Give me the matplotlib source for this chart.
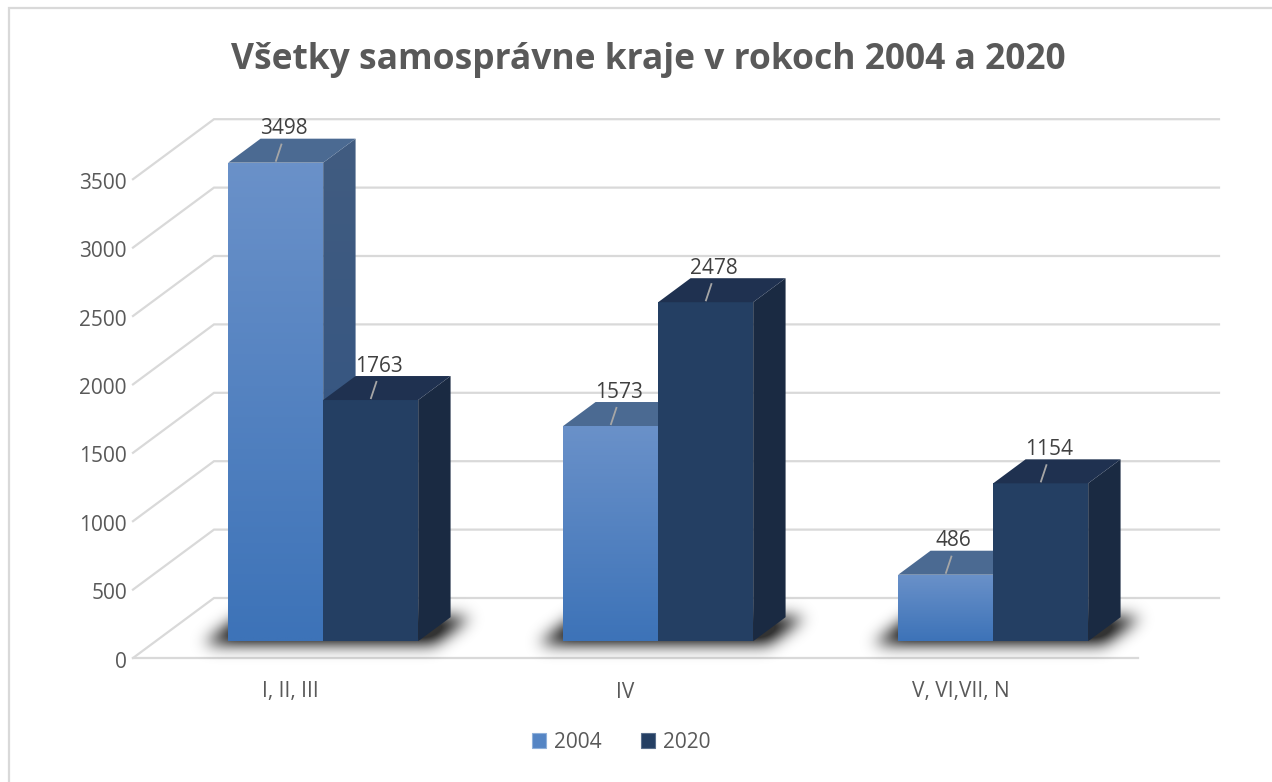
import numpy as np
import matplotlib
matplotlib.use('Agg')
import matplotlib.pyplot as plt
from matplotlib.patches import Polygon, Patch, Rectangle
from matplotlib.path import Path

plt.rcParams['font.family'] = ['Open Sans', 'DejaVu Sans']

# Data
categories = ['I, II, III', 'IV', 'V, VI,VII, N']
series = ['2004', '2020']
values_2004 = [3498, 1573, 486]
values_2020 = [1763, 2478, 1154]
y_ticks = [0, 500, 1000, 1500, 2000, 2500, 3000, 3500]
title = 'Všetky samosprávne kraje v rokoch 2004 a 2020'

# Colours: front, top, side (front/side of 2004 get a gradient)
c04_front_top, c04_front_bot = '#6A91C9', '#3D73B8'
c04_top = '#4B6A92'
c04_side_top, c04_side_bot = '#415C80', '#2F5283'
c20_front, c20_top, c20_side = '#243F63', '#1F3150', '#1A2A42'
grid_col = '#D9D9D9'
text_col = '#595959'
label_col = '#404040'

W, H = 1272, 782
fig = plt.figure(figsize=(W / 100, H / 100), dpi=100)
ax = fig.add_axes([0, 0, 1, 1])
ax.axis('off')

# Pseudo-3D geometry in data units (x: category units, y: value units)
px_per_cat = 335.0
px_per_val = 68.4 / 500
x0_px, y0_px = 133, 658
ax.set_xlim(-x0_px / px_per_cat, (W - x0_px) / px_per_cat)
ax.set_ylim((y0_px - H) / px_per_val, y0_px / px_per_val)
DX = 81 / px_per_cat      # full floor depth, x shift
DY = 60 / px_per_val      # full floor depth, y shift
n_cat = len(categories)
bar_w = 95 / px_per_cat
z_front, z_back = 0.28, 0.68
fs = 15


def proj(x, y, z):
    return (x + z * DX, y + z * DY)


# chart border (only top and left visible)
fig.add_artist(Rectangle((9 / W, -0.1), 1.2, (H - 8) / H + 0.1, transform=fig.transFigure,
                         fill=False, edgecolor=grid_col, lw=1.6))

# gridlines: side wall diagonal + back wall
for v in y_ticks:
    a = proj(0, v, 0)
    b = proj(0, v, 1)
    c = proj(n_cat, v, 1)
    ax.plot([a[0], b[0], c[0]], [a[1], b[1], c[1]], color=grid_col, lw=1.6,
            solid_joinstyle='miter', zorder=1)
    ax.text(a[0] - 6 / px_per_cat, v - 4 / px_per_val, str(v), ha='right', va='center',
            fontsize=fs, color=text_col)
ax.plot([0, n_cat], [0, 0], color=grid_col, lw=1.6, zorder=1)

# category labels
for i, cat in enumerate(categories):
    ax.text(i + 0.5 - 10 / px_per_cat, -34 / px_per_val, cat, ha='center', va='center',
            fontsize=fs, color=text_col)


def grad_face(poly_pts, c_top, c_bot, zorder):
    poly = Polygon(poly_pts, closed=True, facecolor='none', edgecolor='none', zorder=zorder)
    ax.add_patch(poly)
    xs = [p[0] for p in poly_pts]
    ys = [p[1] for p in poly_pts]
    ct = np.array(matplotlib.colors.to_rgb(c_top))
    cb = np.array(matplotlib.colors.to_rgb(c_bot))
    t = np.linspace(0, 1, 64)[:, None]
    img = (ct * (1 - t) + cb * t)[:, None, :]
    im = ax.imshow(img, extent=[min(xs), max(xs), min(ys), max(ys)], origin='upper',
                   aspect='auto', zorder=zorder, interpolation='bilinear')
    im.set_clip_path(poly)


def draw_bar(xl, v, style, zo):
    xr = xl + bar_w
    f = [proj(xl, 0, z_front), proj(xr, 0, z_front), proj(xr, v, z_front), proj(xl, v, z_front)]
    top = [proj(xl, v, z_front), proj(xr, v, z_front), proj(xr, v, z_back), proj(xl, v, z_back)]
    side = [proj(xr, 0, z_front), proj(xr, 0, z_back), proj(xr, v, z_back), proj(xr, v, z_front)]
    if style == 0:
        grad_face(side, c04_side_top, c04_side_bot, zo)
        grad_face(f, c04_front_top, c04_front_bot, zo + 0.1)
        ax.add_patch(Polygon(top, closed=True, facecolor=c04_top, edgecolor='none', zorder=zo + 0.1))
    else:
        ax.add_patch(Polygon(side, closed=True, facecolor=c20_side, edgecolor='none', zorder=zo))
        ax.add_patch(Polygon(f, closed=True, facecolor=c20_front, edgecolor='none', zorder=zo + 0.1))
        ax.add_patch(Polygon(top, closed=True, facecolor=c20_top, edgecolor='none', zorder=zo + 0.1))
    # data label with leader line
    cx = xl + bar_w / 2
    tx, ty = proj(cx, v, z_front)
    ax.plot([tx, tx + 6 / px_per_cat], [ty + 1 / px_per_val, ty + 19 / px_per_val],
            color='#A6A6A6', lw=1.3, zorder=zo + 0.2, solid_capstyle='butt')
    ax.text(tx + 8 / px_per_cat, ty + 34 / px_per_val, str(v), ha='center', va='center',
            fontsize=fs, color=label_col, zorder=zo + 0.3)


def draw_shadow(xl, xr):
    # soft blurred shadow on the floor around the base of a bar group
    ex = 20 / px_per_cat
    pts = [proj(xl - ex, 0, z_front - 0.05), proj(xr + ex, 0, z_front - 0.05),
           proj(xr + ex, 0, z_back), proj(xl - ex, 0, z_back)]
    pad_x, pad_y = 40 / px_per_cat, 40 / px_per_val
    xs = [p[0] for p in pts]
    ys = [p[1] for p in pts]
    gx = np.arange(min(xs) - pad_x, max(xs) + pad_x, 1 / px_per_cat)
    gy = np.arange(min(ys) - pad_y, max(ys) + pad_y, 1 / px_per_val)
    XX, YY = np.meshgrid(gx, gy)
    mask = Path(pts).contains_points(np.c_[XX.ravel(), YY.ravel()]).reshape(XX.shape)
    a = mask.astype(float)
    sig = 8.0
    k = np.exp(-0.5 * (np.arange(-24, 25) / sig) ** 2)
    k /= k.sum()
    a = np.apply_along_axis(lambda r: np.convolve(r, k, mode='same'), 1, a)
    a = np.apply_along_axis(lambda c: np.convolve(c, k, mode='same'), 0, a)
    rgba = np.zeros(a.shape + (4,))
    rgba[..., 3] = np.clip(a * 1.3, 0, 1) * 0.8
    ax.imshow(rgba, extent=[gx[0], gx[-1], gy[0], gy[-1]], origin='lower',
              aspect='auto', zorder=2, interpolation='bilinear')


for i in range(n_cat):
    left = i + 0.5 - bar_w
    draw_shadow(left, left + 2 * bar_w)
    draw_bar(left, values_2004[i], 0, 3 + i)
    draw_bar(left + bar_w, values_2020[i], 1, 3.5 + i)

ax.set_xlim(-x0_px / px_per_cat, (W - x0_px) / px_per_cat)
ax.set_ylim((y0_px - H) / px_per_val, y0_px / px_per_val)

fig.text(648 / W, 1 - 60 / H, title, ha='center', va='center', fontsize=25.5,
         fontweight='bold', color=text_col)

handles = [Patch(facecolor='#5585C4', edgecolor='#8FB0DA', lw=0.8),
           Patch(facecolor=c20_front, edgecolor='#5A6F8C', lw=0.8)]
fig.legend(handles, series, loc='center', bbox_to_anchor=(621 / W, 1 - 742 / H), ncol=2,
           frameon=False, fontsize=fs, labelcolor=text_col, handlelength=0.7,
           handleheight=0.7, handletextpad=0.35, columnspacing=1.9)

fig.savefig('out.png', dpi=100, facecolor='white')
